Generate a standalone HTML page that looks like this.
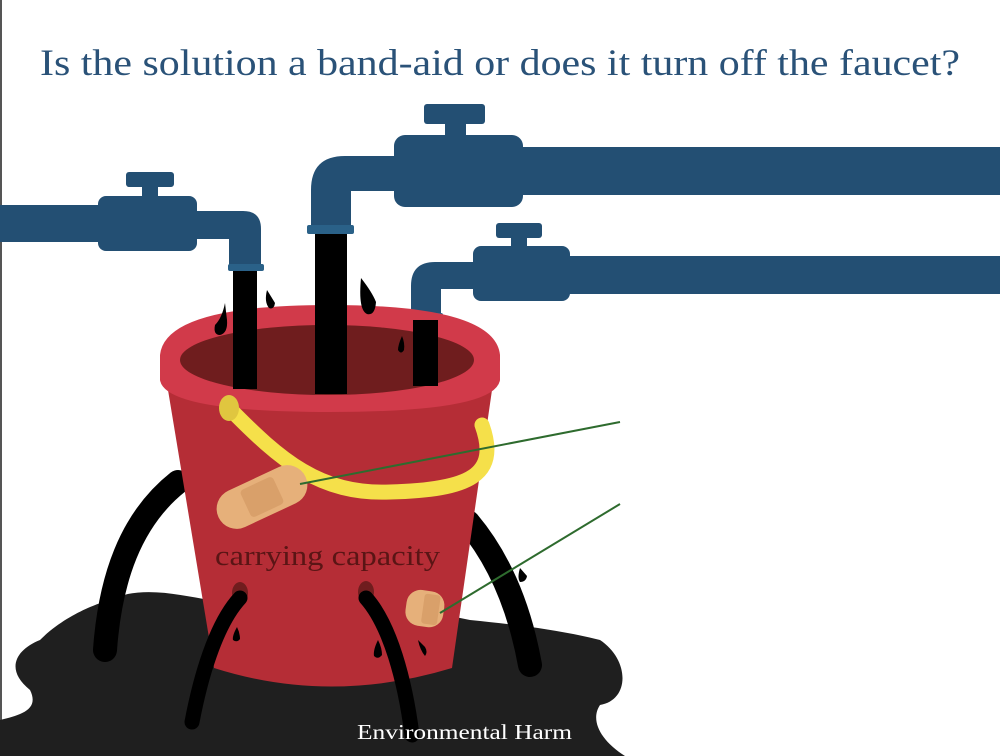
<!DOCTYPE html>
<html><head><meta charset="utf-8"><style>
html,body{margin:0;padding:0;background:#fff;}
body{width:1000px;height:756px;overflow:hidden;}
svg{display:block;}
</style></head><body>
<svg width="1000" height="756" viewBox="0 0 1000 756" xmlns="http://www.w3.org/2000/svg">
<rect width="1000" height="756" fill="#fff"/>
<rect x="0" y="0" width="2" height="756" fill="#555"/>
<text x="40" y="75" textLength="920" lengthAdjust="spacingAndGlyphs" font-family="Liberation Serif, serif" font-size="37" fill="#2a5278">Is the solution a band-aid or does it turn off the faucet?</text>

<!-- puddle -->
<path d="M40,640 C70,610 110,600 110,600 C140,585 180,595 210,600 L300,598 C380,600 420,610 470,620 C520,625 560,630 600,640 C630,660 630,700 600,705 C590,720 600,740 625,756 L0,756 L0,720 C20,715 40,710 30,690 C5,670 15,650 40,640 Z" fill="#1f1f1f"/>

<!-- outer black arcs (legs) -->
<path d="M178,482 C130,520 110,580 105,650" stroke="#000" stroke-width="24" fill="none" stroke-linecap="round"/>
<path d="M468,522 C500,560 520,610 530,665" stroke="#000" stroke-width="24" fill="none" stroke-linecap="round"/>

<!-- faucets -->
<g fill="#234f73">
 <!-- left -->
 <rect x="0" y="205" width="110" height="37"/>
 <rect x="98" y="196" width="99" height="55" rx="8"/>
 <rect x="142" y="184" width="16" height="14"/>
 <rect x="126" y="172" width="48" height="15" rx="3"/>
 <path d="M195,211 L243,211 Q261,211 261,229 L261,266 L229,266 L229,239 L195,239 Z"/>
 <!-- middle -->
 <rect x="510" y="147" width="490" height="48"/>
 <rect x="394" y="135" width="129" height="72" rx="11"/>
 <rect x="445" y="122" width="21" height="15"/>
 <rect x="424" y="104" width="61" height="20" rx="3"/>
 <path d="M396,156 L345,156 Q311,156 311,190 L311,228 L351,228 L351,191 L396,191 Z"/>
 <!-- right -->
 <rect x="560" y="256" width="440" height="38"/>
 <rect x="473" y="246" width="97" height="55" rx="8"/>
 <rect x="511" y="235" width="16" height="13"/>
 <rect x="496" y="223" width="46" height="15" rx="3"/>
 <path d="M475,262 L435,262 Q411,262 411,286 L411,316 L441,316 L441,289 L475,289 Z"/>
</g>
<g fill="#2a6188">
 <rect x="228" y="264" width="36" height="7" rx="2"/>
 <rect x="307" y="225" width="47" height="9" rx="2"/>
 <rect x="408" y="313" width="35" height="7" rx="2"/>
</g>

<!-- bucket body -->
<path d="M168,390 L492,390 L452,668 Q330,705 214,668 Z" fill="#b52d36"/>
<!-- rim -->
<path d="M160,355 Q165,305 330,305 Q495,305 500,355 L500,380 Q495,412 330,412 Q165,412 160,380 Z" fill="#d13a4a"/>
<ellipse cx="327" cy="360" rx="147" ry="35" fill="#6f1d1e"/>

<!-- streams into bucket -->
<rect x="233" y="271" width="24" height="118" fill="#000"/>
<rect x="315" y="234" width="32" height="160" fill="#000"/>
<rect x="413" y="320" width="25" height="66" fill="#000"/>
<!-- drips -->
<g fill="#000">
 <path d="M225,303 Q222,318 215,325 Q213,335 220,335 Q228,333 227,320 Z"/>
 <path d="M267,290 Q272,298 275,303 Q274,310 269,308 Q264,302 267,290 Z"/>
 <path d="M361,278 Q372,292 376,302 Q375,316 367,314 Q358,310 361,278 Z"/>
 <path d="M402,336 Q398,345 398,350 Q401,355 404,350 Q405,343 402,336 Z"/>
</g>

<!-- handle -->
<path d="M229,408 C280,460 320,495 390,492 C470,490 500,475 482,425" stroke="#f5e04a" stroke-width="15" fill="none" stroke-linecap="round"/>
<ellipse cx="229" cy="408" rx="10" ry="13" fill="#e0c63f"/>

<!-- band-aids -->
<g transform="translate(262,497) rotate(-25)">
 <rect x="-48" y="-20" width="96" height="40" rx="20" fill="#e6b07a"/>
 <rect x="-18" y="-15" width="36" height="30" rx="4" fill="#d9a06a"/>
</g>
<g transform="translate(428,608) rotate(8)">
 <rect x="-22" y="-17" width="38" height="36" rx="14" fill="#e6b07a"/>
 <rect x="-5" y="-14" width="16" height="30" rx="3" fill="#d9a06a"/>
</g>

<!-- holes and leaks -->
<ellipse cx="240" cy="593" rx="8" ry="11" fill="#6f1d1e"/>
<ellipse cx="366" cy="592" rx="8" ry="11" fill="#6f1d1e"/>
<path d="M240,598 C215,625 200,680 192,722" stroke="#000" stroke-width="15" fill="none" stroke-linecap="round"/>
<path d="M366,598 C390,625 405,680 412,735" stroke="#000" stroke-width="15" fill="none" stroke-linecap="round"/>
<g fill="#000">
 <path d="M237,627 Q232,636 233,640 Q237,643 240,639 Q240,633 237,627 Z"/>
 <path d="M378,640 Q373,650 374,656 Q378,660 382,655 Q382,648 378,640 Z"/>
 <path d="M418,640 Q420,650 425,656 Q428,652 425,647 Z"/>
 <path d="M520,568 Q517,578 520,582 Q526,582 527,576 Z"/>
</g>

<!-- green lines -->
<line x1="300" y1="484" x2="620" y2="422" stroke="#2e6b2e" stroke-width="2"/>
<line x1="440" y1="613" x2="620" y2="504" stroke="#2e6b2e" stroke-width="2"/>

<text x="215" y="565" textLength="225" lengthAdjust="spacingAndGlyphs" font-family="Liberation Serif, serif" font-size="29" fill="#5a1515">carrying capacity</text>
<text x="357" y="739" textLength="215" lengthAdjust="spacingAndGlyphs" font-family="Liberation Serif, serif" font-size="21" fill="#fff">Environmental Harm</text>
</svg>
</body></html>
